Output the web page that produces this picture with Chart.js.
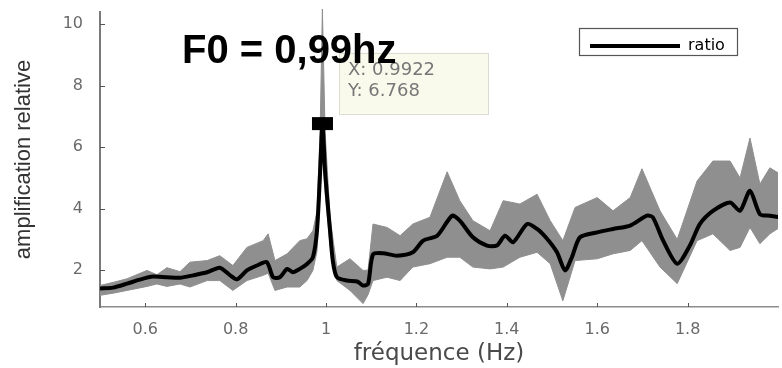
<!DOCTYPE html>
<html><head><meta charset="utf-8">
<script src="https://cdn.jsdelivr.net/npm/chart.js@4.4.0/dist/chart.umd.min.js"></script>
<style>html,body{margin:0;padding:0;background:#fff;overflow:hidden;width:782px;height:368px}</style>
</head><body>
<canvas id="c" width="782" height="368" style="width:782px;height:368px;display:block"></canvas>
<script>
// ---- data ----
const freqLine = [0.500,0.529,0.560,0.588,0.617,0.648,0.677,0.706,0.737,0.765,0.788,0.803,0.825,0.847,0.869,0.883,0.898,0.914,0.927,0.942,0.958,0.971,0.980,0.987,0.9922,0.998,1.009,1.015,1.024,1.046,1.069,1.082,1.093,1.104,1.126,1.157,1.192,1.215,1.246,1.279,1.296,1.325,1.356,1.378,1.396,1.414,1.445,1.467,1.489,1.511,1.529,1.544,1.562,1.600,1.635,1.673,1.710,1.723,1.746,1.777,1.805,1.827,1.856,1.894,1.916,1.938,1.960,1.982,2.004];
const ratioLine = [1.40,1.43,1.56,1.69,1.79,1.77,1.75,1.83,1.93,2.08,1.83,1.70,1.99,2.15,2.26,1.77,1.77,2.04,1.93,2.04,2.20,2.42,3.28,5.20,6.768,5.20,3.28,2.31,1.77,1.66,1.63,1.50,1.55,2.51,2.55,2.47,2.58,2.96,3.12,3.77,3.61,3.07,2.80,2.80,3.12,2.91,3.50,3.34,3.02,2.58,1.99,2.42,3.07,3.23,3.34,3.45,3.77,3.72,2.96,2.21,2.80,3.50,3.93,4.20,3.93,4.58,3.82,3.77,3.72];
const freqBand = [0.500,0.529,0.560,0.604,0.626,0.648,0.677,0.699,0.737,0.765,0.794,0.825,0.861,0.872,0.887,0.914,0.942,0.958,0.971,0.980,0.987,0.992,0.998,1.009,1.024,1.053,1.082,1.093,1.104,1.135,1.164,1.192,1.230,1.268,1.296,1.325,1.363,1.392,1.429,1.467,1.496,1.524,1.551,1.600,1.635,1.673,1.699,1.739,1.777,1.821,1.856,1.894,1.916,1.938,1.960,1.982,2.004];
const bandUpper = [1.50,1.60,1.72,1.99,1.85,2.08,1.95,2.26,2.31,2.47,2.15,2.74,2.96,3.18,2.31,2.53,2.96,3.02,3.28,3.90,6.50,10.5,6.50,3.70,2.10,2.37,1.99,2.00,3.50,3.39,3.12,3.50,3.72,5.20,4.26,3.61,3.28,4.26,4.15,4.47,3.61,2.96,4.04,4.36,3.93,4.36,5.30,3.93,3.00,4.90,5.55,5.55,5.00,6.30,4.80,5.33,5.13];
const bandLower = [1.18,1.25,1.34,1.47,1.55,1.47,1.55,1.45,1.66,1.66,1.34,1.66,1.83,1.90,1.34,1.45,1.45,1.66,1.99,2.60,4.50,6.00,4.50,2.80,1.66,1.34,0.91,1.20,1.66,1.77,1.66,2.10,2.21,2.42,2.42,2.10,2.04,2.10,2.42,2.58,2.21,1.00,2.31,2.37,2.53,2.64,2.96,2.10,1.56,2.96,3.18,2.64,2.74,3.39,2.86,3.18,3.39];
const xTicks = [0.6,0.8,1,1.2,1.4,1.6,1.8];
const yTicks = [2,4,6,8,10];
const peakX = 0.9922, peakY = 6.768;
const titleText = 'F0 = 0,99hz';
const seriesName = 'ratio';

const pts = (xs, ys) => xs.map((v, i) => ({x: v, y: ys[i]}));
const legendFont = {family: 'DejaVu Sans', size: 16};
const LEG_PAD = 10;

const overlay = {
  id: 'overlay',
  beforeDraw(chart) {
    // place the legend at the top right, inside the axes
    const lg = chart.legend;
    lg.left = 590 - LEG_PAD; lg.top = 28;
    lg.right = 782; lg.bottom = chart.chartArea.bottom;
  },
  afterDraw(chart) {
    const {ctx, chartArea: a, scales: {x, y}} = chart;
    ctx.save();
    // inward tick marks
    ctx.strokeStyle = '#555'; ctx.lineWidth = 1;
    xTicks.forEach(v => { const p = Math.round(x.getPixelForValue(v)) + 0.5; ctx.beginPath(); ctx.moveTo(p, a.bottom); ctx.lineTo(p, a.bottom - 4); ctx.stroke(); });
    yTicks.forEach(v => { const p = Math.round(y.getPixelForValue(v)) + 0.5; ctx.beginPath(); ctx.moveTo(a.left, p); ctx.lineTo(a.left + 5, p); ctx.stroke(); });
    // legend border
    const lg = chart.legend;
    ctx.font = legendFont.size + 'px ' + legendFont.family;
    const tw = ctx.measureText(seriesName).width;
    const l = lg.left + LEG_PAD - 11, r = lg.left + LEG_PAD + 90 + legendFont.size / 2 + tw + 12;
    const t = lg.top, b = lg.top + 27;
    ctx.strokeStyle = '#555'; ctx.lineWidth = 1.2;
    ctx.strokeRect(Math.round(l) + 0.5, Math.round(t) + 0.5, Math.round(r - l), Math.round(b - t));
    // data tip
    const px = x.getPixelForValue(peakX), py = y.getPixelForValue(peakY);
    const bx = px + 16.5, by = py - 71, bw = 149, bh = 61;
    ctx.fillStyle = '#fafaec'; ctx.fillRect(bx, by, bw, bh);
    ctx.strokeStyle = '#dcdcd0'; ctx.lineWidth = 1; ctx.strokeRect(Math.round(bx) + 0.5, Math.round(by) + 0.5, bw, bh);
    ctx.fillStyle = '#777'; ctx.font = '18px "DejaVu Sans"'; ctx.textBaseline = 'middle'; ctx.textAlign = 'left';
    ctx.fillText('X: ' + peakX, bx + 9, by + 18);
    ctx.fillText('Y: ' + peakY, bx + 9, by + 39);
    // marker
    ctx.fillStyle = '#000'; ctx.fillRect(px - 10.5, py - 6.5, 21, 13);
    // annotation title
    ctx.fillStyle = '#000'; ctx.font = 'bold 40px "Liberation Sans"'; ctx.textBaseline = 'alphabetic';
    ctx.fillText(titleText, 182, 63);
    ctx.restore();
  }
};

new Chart(document.getElementById('c'), {
  type: 'line',
  data: {
    datasets: [
      {label: seriesName, data: pts(freqLine, ratioLine), borderColor: '#000', borderWidth: 4, pointRadius: 0, tension: 0.25, fill: false},
      {label: 'upper', data: pts(freqBand, bandUpper), borderColor: '#8f8f8f', backgroundColor: '#8f8f8f', borderWidth: 1, pointRadius: 0, tension: 0, fill: '+1', clip: {left: 0, right: 0, top: 3, bottom: 0}},
      {label: 'lower', data: pts(freqBand, bandLower), borderColor: '#8f8f8f', borderWidth: 1, pointRadius: 0, tension: 0, fill: false}
    ]
  },
  options: {
    responsive: false, animation: false, events: [],
    layout: {padding: {top: 12, right: 4, left: 0, bottom: 0}},
    scales: {
      x: {
        type: 'linear', min: 0.5, max: 2.0,
        afterBuildTicks: s => { s.ticks = xTicks.map(v => ({value: v})); },
        afterFit: s => { s.height = 61; s.paddingLeft = 0; s.paddingRight = 0; },
        grid: {display: true, drawOnChartArea: false, drawTicks: false},
        border: {display: true, color: '#8c8c8c', width: 1.5},
        ticks: {padding: 13, color: '#6a6a6a', font: {family: 'DejaVu Sans', size: 16}, maxRotation: 0, callback: v => String(+v.toFixed(2))},
        title: {display: true, text: 'fréquence (Hz)', color: '#4a4a4a', font: {family: 'DejaVu Sans', size: 23}, padding: {top: 0, bottom: 0}}
      },
      y: {
        type: 'linear', min: 0.8, max: 10.4,
        afterBuildTicks: s => { s.ticks = yTicks.map(v => ({value: v})); },
        afterFit: s => { s.width = 100; s.paddingTop = 0; s.paddingBottom = 0; },
        grid: {display: true, drawOnChartArea: false, drawTicks: false},
        border: {display: true, color: '#7a7a7a', width: 2},
        ticks: {padding: 17, color: '#6a6a6a', font: {family: 'DejaVu Sans', size: 16}, callback: v => String(v)},
        title: {display: true, text: 'amplification relative', color: '#333', font: {family: '"Liberation Sans", Arial, sans-serif', size: 22}, padding: {top: 11, bottom: 0}}
      }
    },
    plugins: {
      tooltip: {enabled: false},
      legend: {
        display: true, position: 'chartArea', align: 'start',
        labels: {
          padding: LEG_PAD, boxWidth: 90, boxHeight: 4, color: '#555', font: legendFont,
          generateLabels: () => [{text: seriesName, fillStyle: '#000', strokeStyle: '#000', lineWidth: 0, hidden: false, datasetIndex: 0}]
        }
      }
    }
  },
  plugins: [overlay]
});
</script>
</body></html>
